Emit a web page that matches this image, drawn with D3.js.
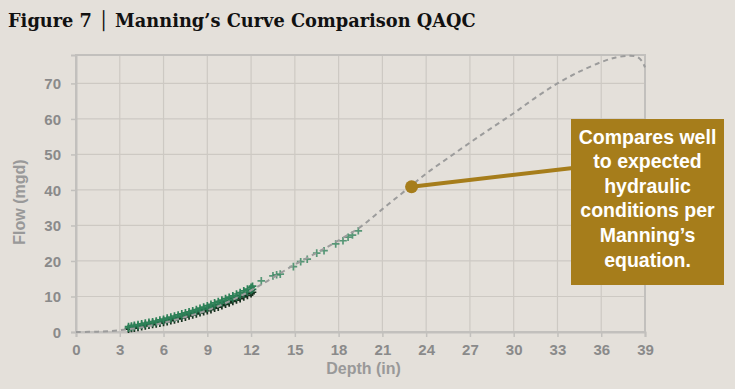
<!DOCTYPE html>
<html>
<head>
<meta charset="utf-8">
<script src="https://cdn.jsdelivr.net/npm/d3@7"></script>
<style>
  html, body { margin: 0; padding: 0; background: #e4e0da; }
  svg { display: block; }
</style>
</head>
<body>
<div id="chart"></div>
<script>
// Manning's curve (depth in, flow mgd)
const curveDepth = [0, 1.5, 3, 4.5, 6, 7.5, 9, 10.5, 12, 13.5, 15, 16.5, 18, 19.5, 21, 22.5, 24, 25.5, 27, 28.5, 30, 31.5, 33, 34.5, 36, 37, 38, 38.5, 38.8, 39];
const curveFlow  = [0, 0.1, 0.5, 1.3, 2.6, 4.2, 6.1, 8.6, 11.7, 15.3, 19.0, 22.3, 25.8, 29.6, 34.6, 39.6, 44.6, 49.0, 53.3, 57.5, 61.6, 66.0, 70.0, 73.3, 76.0, 77.3, 77.8, 77.4, 76.2, 74.5];

// metered points, dense band: lower edge (dark), middle and upper edge (green)
const bandDepth = [3.6, 3.8, 4.0, 4.25, 4.5, 4.75, 5.0, 5.25, 5.5, 5.75, 6.0, 6.25, 6.5, 6.75, 7.0, 7.25, 7.5, 7.75, 8.0, 8.25, 8.5, 8.75, 9.0, 9.25, 9.5, 9.75, 10.0, 10.25, 10.5, 10.75, 11.0, 11.25, 11.5, 11.75, 12.0, 12.1];
const bandUpper = [1.5, 1.7, 1.9, 2.1, 2.3, 2.5, 2.7, 2.9, 3.1, 3.4, 3.6, 3.9, 4.2, 4.5, 4.8, 5.1, 5.4, 5.7, 6.0, 6.3, 6.7, 7.0, 7.4, 7.8, 8.2, 8.6, 9.0, 9.4, 9.8, 10.2, 10.7, 11.1, 11.6, 12.1, 12.6, 12.9];
const bandMid   = [1.1, 1.3, 1.5, 1.7, 1.9, 2.1, 2.3, 2.5, 2.7, 2.9, 3.2, 3.4, 3.7, 3.9, 4.2, 4.5, 4.8, 5.1, 5.4, 5.7, 6.0, 6.4, 6.7, 7.1, 7.4, 7.8, 8.2, 8.6, 9.0, 9.4, 9.8, 10.3, 10.7, 11.2, 11.7, 12.0];
const bandLower = [0.8, 1.0, 1.1, 1.3, 1.5, 1.7, 1.9, 2.1, 2.3, 2.5, 2.7, 2.9, 3.2, 3.4, 3.7, 3.9, 4.2, 4.5, 4.8, 5.1, 5.4, 5.7, 6.0, 6.3, 6.7, 7.0, 7.4, 7.8, 8.2, 8.6, 9.0, 9.4, 9.9, 10.3, 10.8, 11.2];

// metered points, sparse high-flow tail
const tailDepth = [12.7, 13.5, 13.75, 14.0, 14.9, 15.4, 15.85, 16.5, 17.0, 17.8, 18.3, 18.65, 18.95, 19.35];
const tailFlow  = [14.4, 15.8, 16.1, 16.3, 18.4, 19.8, 20.5, 22.2, 22.9, 24.8, 25.7, 26.7, 27.3, 28.5];

const xTicks = d3.range(0, 40, 3);
const yTicks = [0, 10, 20, 30, 40, 50, 60, 70];

const callout = { depth: 23, flow: 40.9 };
const calloutLines = ["Compares well", "to expected", "hydraulic", "conditions per", "Manning\u2019s", "equation."];

const W = 735, H = 389;
const svg = d3.select("#chart").append("svg")
    .attr("width", W).attr("height", H);

svg.append("rect").attr("width", W).attr("height", H).attr("fill", "#e4e0da");

svg.append("text")
    .attr("x", 8).attr("y", 27)
    .style("font-family", "'DejaVu Serif', serif")
    .style("font-weight", "bold")
    .style("font-size", "17.8px")
    .attr("fill", "#111")
    .text("Figure 7 \u2502 Manning\u2019s Curve Comparison QAQC");

const x = d3.scaleLinear().domain([0, 39]).range([76, 645]);
const y = d3.scaleLinear().domain([0, 78]).range([332, 55]);

const grey = "#8a8a8a";
const gridC = "#cdc9c3";
const frameC = "#c2c0bd";
const sans = "'Liberation Sans', Arial, sans-serif";

// gridlines
svg.append("g").selectAll("line").data(xTicks.slice(1)).join("line")
    .attr("x1", d => x(d)).attr("x2", d => x(d))
    .attr("y1", y(78)).attr("y2", y(0))
    .attr("stroke", gridC).attr("stroke-width", 1.2);
svg.append("g").selectAll("line").data(yTicks.slice(1)).join("line")
    .attr("x1", x(0)).attr("x2", x(39))
    .attr("y1", d => y(d)).attr("y2", d => y(d))
    .attr("stroke", gridC).attr("stroke-width", 1.2);

// frame
svg.append("rect")
    .attr("x", x(0)).attr("y", y(78))
    .attr("width", x(39) - x(0)).attr("height", y(0) - y(78))
    .attr("fill", "none").attr("stroke", frameC).attr("stroke-width", 2);

// axes
const xAxis = svg.append("g")
    .attr("transform", `translate(0,${y(0)})`)
    .call(d3.axisBottom(x).tickValues(xTicks).tickSize(5).tickPadding(7));
const yAxis = svg.append("g")
    .attr("transform", `translate(${x(0)},0)`)
    .call(d3.axisLeft(y).tickValues(yTicks).tickSize(5).tickPadding(10));
[xAxis, yAxis].forEach(a => {
    a.select(".domain").attr("stroke", frameC).attr("stroke-width", 2);
    a.selectAll(".tick line").attr("stroke", frameC).attr("stroke-width", 1.5);
    a.selectAll(".tick text")
        .attr("fill", grey)
        .style("font-family", sans)
        .style("font-weight", "bold")
        .style("font-size", "15px");
});
yAxis.selectAll(".tick text").attr("dy", "0.35em");

svg.append("text")
    .attr("x", (x(0) + x(39)) / 2 + 3).attr("y", 374)
    .attr("text-anchor", "middle")
    .attr("fill", "#999")
    .style("font-family", sans)
    .style("font-weight", "bold").style("font-size", "16px")
    .text("Depth (in)");
svg.append("text")
    .attr("transform", "translate(25,202) rotate(-90)")
    .attr("text-anchor", "middle")
    .attr("fill", "#999")
    .style("font-family", sans)
    .style("font-weight", "bold").style("font-size", "16px")
    .text("Flow (mgd)");

// plus markers
function drawPlus(g, pts, colour, opacity) {
    g.selectAll("path").data(pts).join("path")
        .attr("d", d => {
            const cx = x(d[0]), cy = y(d[1]), r = 3.8;
            return `M${cx - r},${cy}H${cx + r}M${cx},${cy - r}V${cy + r}`;
        })
        .attr("stroke", colour).attr("stroke-width", 1.7)
        .attr("stroke-opacity", opacity).attr("fill", "none");
}
drawPlus(svg.append("g"), bandDepth.map((d, i) => [d, bandLower[i]]), "#17301f", 1);
drawPlus(svg.append("g"), bandDepth.map((d, i) => [d, bandMid[i]]), "#24704c", 1);
drawPlus(svg.append("g"), bandDepth.map((d, i) => [d, bandUpper[i]]), "#2e8158", 1);
drawPlus(svg.append("g"), tailDepth.map((d, i) => [d, tailFlow[i]]), "#3d8a64", 0.85);

// dashed Manning's curve
svg.append("path")
    .datum(curveDepth.map((d, i) => [d, curveFlow[i]]))
    .attr("d", d3.line().x(d => x(d[0])).y(d => y(d[1])).curve(d3.curveCatmullRom))
    .attr("fill", "none").attr("stroke", "#9c9c9c")
    .attr("stroke-width", 2).attr("stroke-dasharray", "5,4");

// callout
const gold = "#a67d1b";
const box = { x0: 571, y0: 119, x1: 724, y1: 285 };
svg.append("line")
    .attr("x1", x(callout.depth)).attr("y1", y(callout.flow))
    .attr("x2", box.x0 + 2).attr("y2", 168)
    .attr("stroke", gold).attr("stroke-width", 4);
svg.append("circle")
    .attr("cx", x(callout.depth)).attr("cy", y(callout.flow)).attr("r", 6.5)
    .attr("fill", gold);
svg.append("rect")
    .attr("x", box.x0).attr("y", box.y0)
    .attr("width", box.x1 - box.x0).attr("height", box.y1 - box.y0)
    .attr("fill", gold);
svg.append("text")
    .attr("text-anchor", "middle")
    .attr("fill", "#fff")
    .style("font-family", sans)
    .style("font-weight", "bold").style("font-size", "19.5px")
    .selectAll("tspan").data(calloutLines).join("tspan")
    .attr("x", (box.x0 + box.x1) / 2)
    .attr("y", (d, i) => 143.5 + i * 24.6)
    .text(d => d);
</script>
</body>
</html>
